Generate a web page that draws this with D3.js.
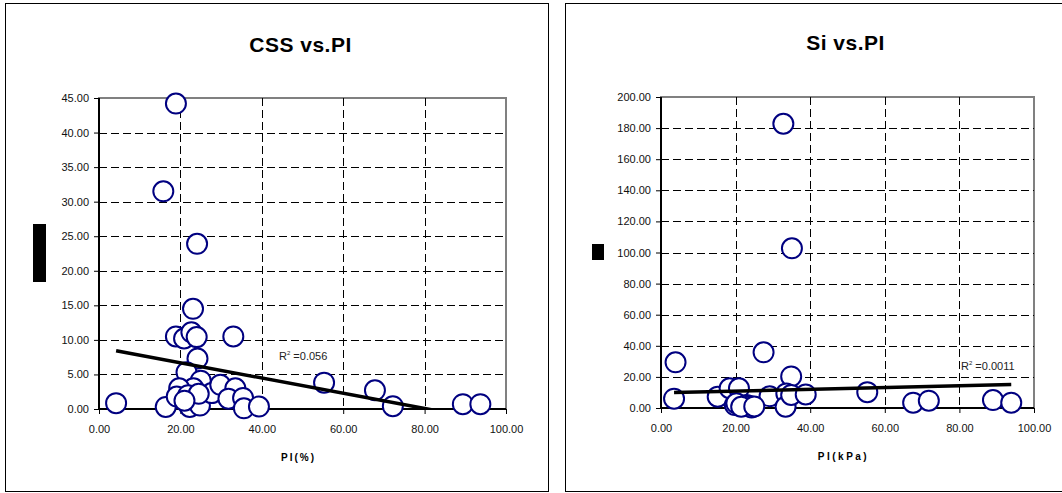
<!DOCTYPE html>
<html>
<head>
<meta charset="utf-8">
<script src="https://cdn.jsdelivr.net/npm/d3@7"></script>
<style>
  body { margin: 0; background: #fff; }
  svg { font-family: "Liberation Sans", Arial, sans-serif; }
</style>
</head>
<body>
<svg width="1062" height="493"></svg>
<script>
// CSS vs PI data
const cssPI = [4.2, 16.4, 15.8, 18.9, 24.1, 23.1, 18.9, 20.9, 22.7, 24.0, 33.0, 24.2, 21.5, 25.0,
  23.2, 19.7, 19.1, 21.9, 22.3, 24.8, 27.7, 29.8, 33.5, 31.8, 35.4, 35.6, 39.3, 55.3, 67.8, 72.2,
  89.4, 93.7, 24.5, 21.0]
const cssValues = [0.85, 0.3, 31.5, 44.2, 23.9, 14.5, 10.5, 10.2, 11.1, 10.4, 10.5, 7.3, 5.3, 4.1,
  3.0, 3.0, 1.8, 2.0, 0.3, 0.5, 2.3, 3.5, 3.0, 1.5, 1.6, 0.1, 0.35, 3.8, 2.7, 0.4,
  0.7, 0.7, 2.2, 1.2]
const cssTrend = { intercept: 8.88, slope: -0.110, r2: '0.056' }
const cssYTicks = [0, 5, 10, 15, 20, 25, 30, 35, 40, 45]

// Si vs PI data
const siPI = [3.9, 3.5, 15.2, 18.4, 20.9, 19.8, 20.2, 22.9, 23.8, 24.3, 21.5, 27.5, 29.1, 32.8,
  35.1, 34.9, 33.6, 33.4, 34.9, 38.8, 55.3, 67.6, 71.8, 89.0, 93.9, 25.0]
const siValues = [29.4, 6.0, 7.3, 12.7, 12.7, 1.9, 3.0, 1.9, 1.3, 0.3, 0.8, 35.8, 7.5, 182.8,
  102.7, 20.3, 9.4, 0.8, 8.4, 8.7, 10.2, 3.4, 4.7, 5.1, 3.4, 1.0]
const siTrend = { intercept: 9.7, slope: 0.0573, r2: '0.0011' }
const siYTicks = [0, 20, 40, 60, 80, 100, 120, 140, 160, 180, 200]

const xTicks = [0, 20, 40, 60, 80, 100]

const svg = d3.select('svg')
const fmt = d3.format('.2f')

const drawChart = (opts) => {
  const { id, panel, plot, title, titleY, xTitle, xTitleSpacing, xs, ys, trend, yTicks, yMax, r2Pos, yBox } = opts
  const g = svg.append('g')

  // panel frame
  g.append('rect')
    .attr('x', panel[0] + 0.5).attr('y', panel[1] + 0.5)
    .attr('width', panel[2] - panel[0]).attr('height', panel[3] - panel[1])
    .attr('fill', '#fff').attr('stroke', '#000').attr('stroke-width', 1)

  const x = d3.scaleLinear().domain([0, 100]).range([plot.left, plot.right])
  const y = d3.scaleLinear().domain([0, yMax]).range([plot.bottom, plot.top])

  // plot border (top/right grey)
  g.append('rect')
    .attr('x', plot.left).attr('y', plot.top)
    .attr('width', plot.right - plot.left).attr('height', plot.bottom - plot.top)
    .attr('fill', 'none').attr('stroke', '#808080').attr('stroke-width', 2)

  // dashed grid
  g.append('g').selectAll('line').data(yTicks.filter(t => t > 0 && t < yMax)).enter().append('line')
    .attr('x1', plot.left).attr('x2', plot.right)
    .attr('y1', d => Math.round(y(d)) + 0.5).attr('y2', d => Math.round(y(d)) + 0.5)
    .attr('stroke', '#000').attr('stroke-dasharray', '8,4')
  g.append('g').selectAll('line').data(xTicks.filter(t => t > 0 && t < 100)).enter().append('line')
    .attr('y1', plot.top).attr('y2', plot.bottom)
    .attr('x1', d => Math.round(x(d)) + 0.5).attr('x2', d => Math.round(x(d)) + 0.5)
    .attr('stroke', '#000').attr('stroke-dasharray', '8,4')

  // axes
  const yAxis = g.append('g').attr('transform', `translate(${plot.left},0)`)
    .call(d3.axisLeft(y).tickValues(yTicks).tickFormat(fmt).tickSize(5).tickPadding(5))
  const xAxis = g.append('g').attr('transform', `translate(0,${plot.bottom})`)
    .call(d3.axisBottom(x).tickValues(xTicks).tickFormat(fmt).tickSize(5).tickPadding(11))
  ;[yAxis, xAxis].forEach(a => {
    a.select('.domain').attr('stroke', '#000').attr('stroke-width', 2)
    a.selectAll('.tick line').attr('stroke', '#000')
    a.selectAll('.tick text').attr('font-size', 11).attr('fill', '#111')
      .attr('font-family', '"Liberation Sans", Arial, sans-serif')
  })
  yAxis.select('.domain').attr('d', `M0,${plot.top}V${plot.bottom}`)
  xAxis.select('.domain').attr('d', `M${plot.left},0H${plot.right}`)

  // points
  const pts = xs.map((v, i) => ({ x: v, y: ys[i] }))
  g.append('g').selectAll('circle').data(pts).enter().append('circle')
    .attr('cx', d => x(d.x)).attr('cy', d => y(d.y)).attr('r', 10)
    .attr('fill', '#fff').attr('stroke', '#000080').attr('stroke-width', 2)

  // trendline, clipped to plot area
  g.append('clipPath').attr('id', 'clip-' + id).append('rect')
    .attr('x', plot.left).attr('y', plot.top)
    .attr('width', plot.right - plot.left).attr('height', plot.bottom - plot.top)
  const tx = d3.extent(xs)
  g.append('line')
    .attr('clip-path', `url(#clip-${id})`)
    .attr('x1', x(tx[0])).attr('y1', y(trend.intercept + trend.slope * tx[0]))
    .attr('x2', x(tx[1])).attr('y2', y(trend.intercept + trend.slope * tx[1]))
    .attr('stroke', '#000').attr('stroke-width', 3.5)

  // R² label
  const r2 = g.append('text').attr('x', r2Pos[0]).attr('y', r2Pos[1])
    .attr('font-size', 11).attr('fill', '#222')
  r2.append('tspan').text('R')
  r2.append('tspan').attr('font-size', 6).attr('dy', -5).text('2')
  r2.append('tspan').attr('dy', 5).text(' =' + trend.r2)

  // redacted y-axis title block
  g.append('rect').attr('x', yBox[0]).attr('y', yBox[1])
    .attr('width', yBox[2]).attr('height', yBox[3]).attr('fill', '#000')

  // titles
  g.append('text').attr('x', (plot.left + plot.right) / 2 - 2).attr('y', titleY)
    .attr('text-anchor', 'middle').attr('font-size', 21).attr('font-weight', 'bold')
    .attr('letter-spacing', 0.5)
    .text(title)
  g.append('text').attr('x', (plot.left + plot.right) / 2 - 4).attr('y', plot.bottom + 52)
    .attr('text-anchor', 'middle').attr('font-size', 10).attr('font-weight', 'bold')
    .attr('letter-spacing', xTitleSpacing)
    .text(xTitle)
}

drawChart({
  id: 'css', panel: [5, 3, 548, 491],
  plot: { left: 99, right: 506, top: 98, bottom: 409 },
  title: 'CSS vs.PI', titleY: 52, xTitle: 'PI(%)', xTitleSpacing: 2,
  xs: cssPI, ys: cssValues, trend: cssTrend, yTicks: cssYTicks, yMax: 45,
  r2Pos: [279, 360], yBox: [33, 224, 13, 58]
})

drawChart({
  id: 'si', panel: [565, 3, 1075, 491],
  plot: { left: 661, right: 1034, top: 97, bottom: 408 },
  title: 'Si vs.PI', titleY: 50, xTitle: 'PI(kPa)', xTitleSpacing: 2.5,
  xs: siPI, ys: siValues, trend: siTrend, yTicks: siYTicks, yMax: 200,
  r2Pos: [961, 370], yBox: [592, 244, 12, 16]
})
</script>
</body>
</html>
